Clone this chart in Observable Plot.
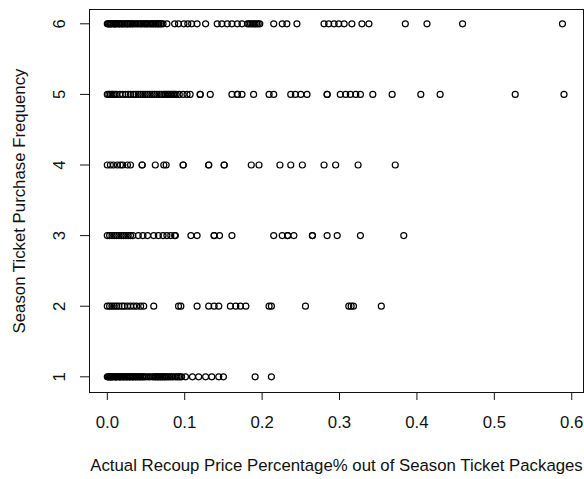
<!DOCTYPE html>
<html>
<head>
<meta charset="utf-8">
<script src="https://cdn.jsdelivr.net/npm/d3@7"></script>
<script src="https://cdn.jsdelivr.net/npm/@observablehq/plot@0.6"></script>
<style>
  html, body { margin: 0; padding: 0; background: #fff; }
  #chart svg { display: block; }
</style>
</head>
<body>
<div id="chart"></div>
<script>
// Recoup percentage values (x) for each purchase frequency (y)
const freq6 = [0.000,0.001,0.002,0.003,0.004,0.005,0.006,0.008,0.009,0.010,0.011,0.012,0.014,0.015,0.016,0.018,0.019,0.020,0.022,0.023,0.025,0.026,0.027,0.029,0.030,0.032,0.033,0.035,0.037,0.039,0.041,0.043,0.044,0.046,0.048,0.049,0.051,0.052,0.054,0.056,0.057,0.059,0.060,0.062,0.063,0.065,0.066,0.067,0.069,0.070,0.072,
  0.077,0.087,0.092,0.099,0.104,0.109,0.116,0.127,0.142,0.148,0.155,0.161,0.168,0.174,0.181,0.183,0.185,0.187,0.189,0.191,0.193,0.195,0.197,
  0.215,0.226,0.232,0.245,0.280,0.286,0.293,0.299,0.306,0.316,0.329,0.338,0.385,0.413,0.459,0.588];
const freq5 = [0.000,0.002,0.004,0.006,0.008,0.010,0.012,0.016,0.020,0.024,0.027,0.030,0.034,0.037,0.040,0.043,0.046,0.049,0.052,0.055,0.058,0.061,0.064,0.067,0.070,0.073,0.075,0.077,0.079,0.081,0.083,0.085,0.087,0.089,0.093,0.098,0.103,0.107,
  0.120,0.120,0.133,0.161,0.168,0.168,0.174,0.189,0.209,0.215,0.237,0.243,0.250,0.258,0.284,0.284,0.301,0.308,0.314,0.321,0.327,0.343,0.368,0.405,0.430,0.527,0.590];
const freq4 = [0.000,0.004,0.008,0.013,0.017,0.020,0.026,0.030,0.045,0.045,0.062,0.073,0.076,0.098,0.098,0.131,0.131,0.151,0.151,0.186,0.196,0.223,0.237,0.252,0.280,0.295,0.324,0.372];
const freq3 = [0.000,0.003,0.006,0.009,0.012,0.015,0.018,0.021,0.024,0.027,0.030,0.033,0.040,0.046,0.052,0.060,0.066,0.072,0.077,0.082,0.087,0.088,0.108,0.116,0.138,0.138,0.145,0.161,
  0.215,0.226,0.233,0.233,0.241,0.265,0.265,0.284,0.297,0.327,0.383];
const freq2 = [0.000,0.003,0.006,0.009,0.012,0.015,0.019,0.022,0.026,0.030,0.034,0.038,0.043,0.047,0.060,0.092,0.095,0.116,0.131,0.138,0.144,0.159,0.166,0.172,0.179,0.209,0.212,0.256,0.312,0.315,0.318,0.354];
const freq1 = [0.000,0.001,0.002,0.003,0.004,0.005,0.006,0.007,0.009,0.010,0.011,0.012,0.013,0.015,0.016,0.017,0.018,0.020,0.021,0.022,0.024,0.025,0.026,0.028,0.029,0.030,0.032,0.033,0.034,0.036,0.037,0.039,0.040,0.042,0.043,0.045,0.046,0.048,0.050,0.053,0.055,0.058,0.060,0.062,0.063,0.065,0.066,0.068,0.069,0.071,0.072,0.074,0.075,0.077,0.079,0.081,0.083,0.085,0.088,0.090,0.092,0.094,0.096,
  0.101,0.110,0.118,0.127,0.135,0.144,0.150,0.191,0.212];

const xTicks = [0, 0.1, 0.2, 0.3, 0.4, 0.5, 0.6];
const yTicks = [1, 2, 3, 4, 5, 6];
const xTitle = "Actual Recoup Price Percentage% out of Season Ticket Packages";
const yTitle = "Season Ticket Purchase Frequency";

const series = [[1, freq1], [2, freq2], [3, freq3], [4, freq4], [5, freq5], [6, freq6]];
const data = series.flatMap(([f, xs]) => xs.map(x => ({x, y: f})));

const font = "Liberation Sans, Arial, sans-serif";
const fs = 16.8;

const chart = Plot.plot({
  width: 584,
  height: 479,
  marginLeft: 89,
  marginRight: 1,
  marginTop: 9,
  marginBottom: 87,
  style: {fontFamily: font, fontSize: fs + "px", color: "#111", background: "#fff"},
  x: {domain: [-0.023, 0.6152], label: null},
  y: {domain: [0.778, 6.2025], label: null},
  marks: [
    Plot.frame({stroke: "#111"}),
    Plot.dot(data, {x: "x", y: "y", r: 3, stroke: "#000", strokeWidth: 1.2, fill: "none"}),
    Plot.axisX(xTicks, {tickSize: 8, tickPadding: 16, tickFormat: d3.format(".1f"), fontSize: fs, label: null}),
    Plot.axisY(yTicks, {tickSize: 9, tickFormat: () => "", label: null}),
    Plot.text(yTicks, {y: d => d, text: d => String(d), frameAnchor: "left", dx: -30, rotate: -90, textAnchor: "middle", lineAnchor: "middle", fontSize: fs, fill: "#111"}),
    Plot.text([xTitle], {frameAnchor: "bottom", dy: 73, text: d => d, textAnchor: "middle", lineAnchor: "middle", fontSize: fs, fill: "#111"}),
    Plot.text([yTitle], {frameAnchor: "left", dx: -70, text: d => d, rotate: -90, textAnchor: "middle", lineAnchor: "middle", fontSize: fs, fill: "#111"})
  ]
});
document.getElementById("chart").appendChild(chart);
</script>
</body>
</html>
